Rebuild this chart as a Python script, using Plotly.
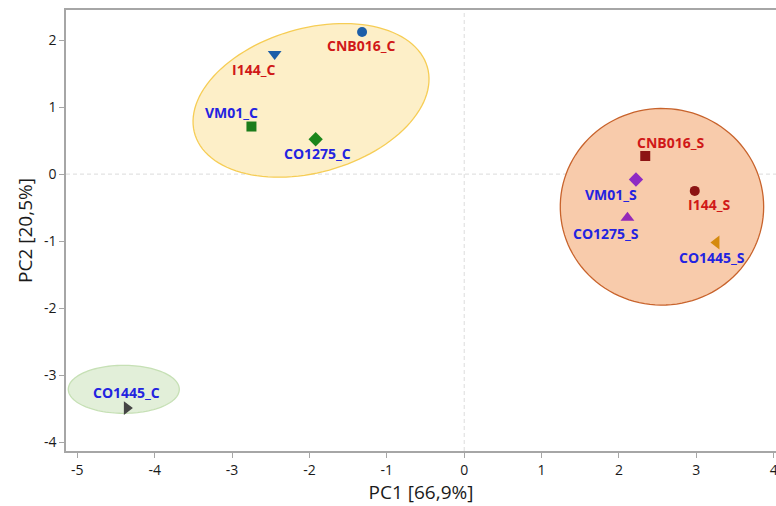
import numpy as np
import plotly.graph_objects as go

# PCA scores (PC1, PC2) for each sample
samples = ["CNB016_C", "I144_C", "VM01_C", "CO1275_C", "CO1445_C",
           "CNB016_S", "VM01_S", "I144_S", "CO1275_S", "CO1445_S"]
pc1 = [-1.32, -2.45, -2.75, -1.92, -4.36, 2.34, 2.22, 2.98, 2.11, 3.26]
pc2 = [2.12, 1.79, 0.71, 0.52, -3.49, 0.27, -0.08, -0.25, -0.65, -1.02]

x_ticks = [-5, -4, -3, -2, -1, 0, 1, 2, 3, 4]
y_ticks = [-4, -3, -2, -1, 0, 1, 2]

# marker style per sample
symbols = ["circle", "triangle-down", "square", "diamond", "triangle-right",
           "square", "diamond", "circle", "triangle-up", "triangle-left"]
marker_colors = ["#1d5ea8", "#1d5ea8", "#1b7c1b", "#1b861b", "#454545",
                 "#8c1414", "#8e2ac4", "#8c1414", "#9428b8", "#d58a0e"]
marker_sizes = [10, 12, 10, 11, 12, 10, 11, 10, 12, 12]
label_colors = ["#d01818", "#d01818", "#2323e0", "#2323e0", "#2323e0",
                "#d01818", "#2323e0", "#d01818", "#2323e0", "#2323e0"]
# label offsets in pixels (dx right, dy up)
label_dx = [-1, -21, -20, 2, 0, 25, -25, 14, -21, -4]
label_dy = [-14, -15, 14, -14, 16, 14, -15, -14, -16, -15]

# layout geometry
W, H = 776, 506
ML, MR, MT, MB = 66, 0, 10, 55
XR = [-5.147, 4.03]
YR = [-4.13, 2.448]
px_x = (W - ML - MR) / (XR[1] - XR[0])
px_y = (H - MT - MB) / (YR[1] - YR[0])

# group ellipses: centre in data units, semi-axes in pixels, tilt in degrees
groups = [
    dict(cx=-1.98, cy=1.10, a=121, b=72, ang=16, fill="#fdefc8", line="#f6cd55"),
    dict(cx=2.556, cy=-0.487, a=101.7, b=98.3, ang=0, fill="#f8cbab", line="#c8632c"),
    dict(cx=-4.40, cy=-3.21, a=55.5, b=24, ang=0, fill="#e2efd9", line="#c6e0b5"),
]


def ellipse_path(g, n=120):
    t = np.linspace(0, 2 * np.pi, n)
    th = np.radians(g["ang"])
    ex = g["a"] * np.cos(t)
    ey = g["b"] * np.sin(t)
    dx = ex * np.cos(th) - ey * np.sin(th)
    dy = ex * np.sin(th) + ey * np.cos(th)
    xs = g["cx"] + dx / px_x
    ys = g["cy"] + dy / px_y
    pts = [f"{x:.5f},{y:.5f}" for x, y in zip(xs, ys)]
    return "M " + " L ".join(pts) + " Z"


fig = go.Figure()

shapes = [
    dict(type="line", xref="x", yref="paper", x0=0, x1=0, y0=0, y1=1,
         line=dict(color="#dcdcdc", width=1, dash="4px,3px"), layer="below"),
    dict(type="line", xref="paper", yref="y", x0=0, x1=1, y0=0, y1=0,
         line=dict(color="#dcdcdc", width=1, dash="4px,3px"), layer="below"),
]
for g in groups:
    shapes.append(dict(type="path", xref="x", yref="y", path=ellipse_path(g),
                       fillcolor=g["fill"], line=dict(color=g["line"], width=1.3),
                       layer="below"))

for i, name in enumerate(samples):
    fig.add_trace(go.Scatter(
        x=[pc1[i]], y=[pc2[i]], mode="markers", name=name,
        marker=dict(symbol=symbols[i], size=marker_sizes[i],
                    color=marker_colors[i], line=dict(width=0)),
        showlegend=False, hoverinfo="text", text=[name]))

annotations = []
for i, name in enumerate(samples):
    annotations.append(dict(
        x=pc1[i], y=pc2[i], xref="x", yref="y", text=name, showarrow=False,
        xshift=label_dx[i], yshift=label_dy[i],
        font=dict(family="Open Sans", size=14, color=label_colors[i], weight="bold")))

fig.update_layout(
    width=W, height=H,
    margin=dict(l=ML, r=MR, t=MT, b=MB, pad=0),
    paper_bgcolor="white", plot_bgcolor="white",
    shapes=shapes, annotations=annotations,
    font=dict(family="Open Sans", color="#1a1a1a"),
    xaxis=dict(range=XR, tickvals=x_ticks, ticktext=[str(v) for v in x_ticks],
               showgrid=False, zeroline=False,
               showline=True, linecolor="#a6a6a6", linewidth=1.5, mirror=True,
               ticks="outside", ticklen=5, tickcolor="#a6a6a6",
               tickfont=dict(size=14, color="#1a1a1a"), ticklabeloverflow="allow",
               title=dict(text="PC1 [66,9%]", font=dict(size=19, color="#1a1a1a"),
                          standoff=8),
               automargin=False),
    yaxis=dict(range=YR, tickvals=y_ticks, ticktext=[str(v) for v in y_ticks],
               showgrid=False, zeroline=False,
               showline=True, linecolor="#a6a6a6", linewidth=1.5,
               ticks="outside", ticklen=5, tickcolor="#a6a6a6",
               tickfont=dict(size=14, color="#1a1a1a"),
               title=dict(text="PC2 [20,5%]", font=dict(size=19, color="#1a1a1a"),
                          standoff=6),
               automargin=False),
)

fig.write_html("out.html")
